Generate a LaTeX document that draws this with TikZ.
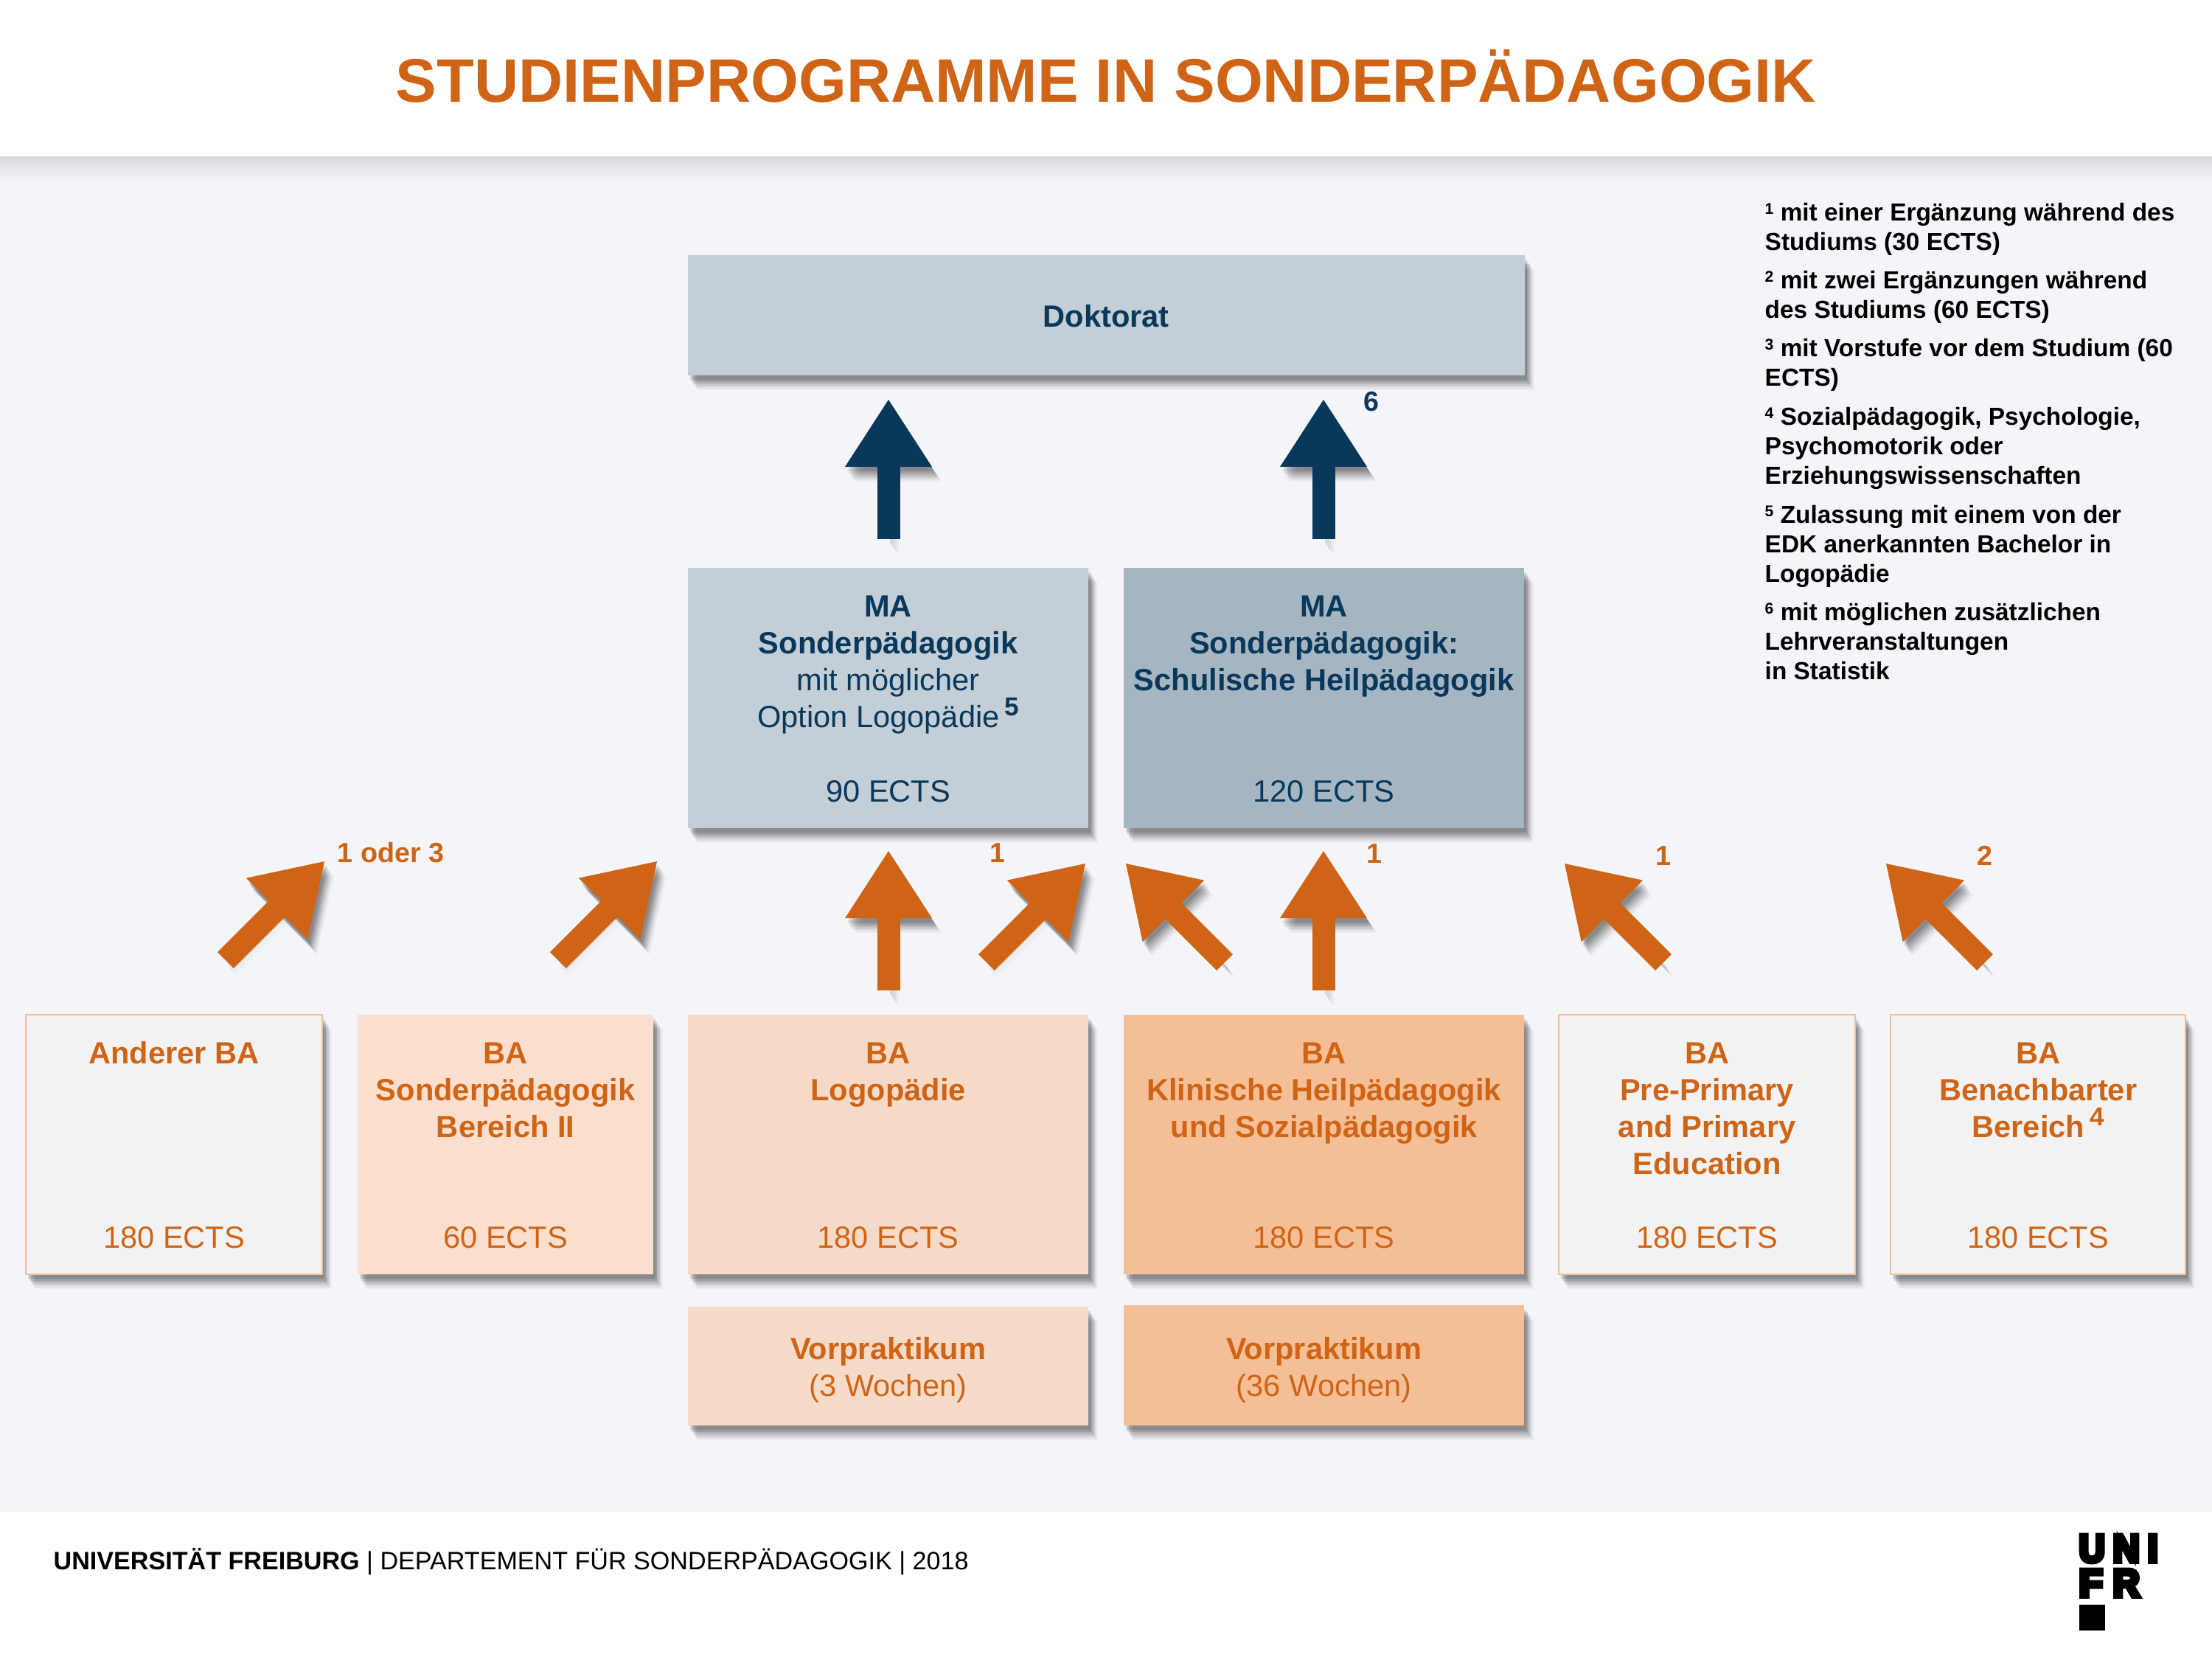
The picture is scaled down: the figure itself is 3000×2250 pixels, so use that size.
\documentclass[tikz,border=0pt]{standalone}
\usepackage{fontspec}
\usepackage{graphicx}
\usetikzlibrary{arrows.meta}
\setmainfont{Liberation Sans}
\definecolor{orng}{HTML}{CF6416}
\definecolor{navy}{HTML}{09385A}
\definecolor{bgc}{HTML}{F3F5F9}
\definecolor{bluea}{HTML}{C3CED7}
\definecolor{blueb}{HTML}{A5B6C2}
\definecolor{peachl}{HTML}{F5DAC8}
\definecolor{peachs}{HTML}{FADFCE}
\definecolor{peachd}{HTML}{F4BF96}
\definecolor{greyb}{HTML}{F2F2F2}
\definecolor{hdshadow}{HTML}{D8D9DB}
% box body: width, height, first baseline offset, top text, bottom text
\newcommand{\bx}[5]{\parbox[c][#2cm][t]{#1cm}{\centering\fontsize{11.83}{14.226}\selectfont\rule{0pt}{#3cm}#4\par\vfill #5\rule[-.36cm]{0pt}{.1cm}\par}}
\newcommand{\sups}[1]{\,\raisebox{.16cm}{\fontsize{10}{10}\selectfont\bfseries #1}}
\newcommand{\fsup}[1]{\raisebox{.09cm}{\fontsize{6}{6}\selectfont #1}}
\newcommand{\logol}[3]{\resizebox{#1cm}{#2cm}{\fontspec[FakeBold=12]{Liberation Sans Bold}#3}}
\tikzset{
  x=.01cm,y=-.01cm,
  softa/.style={preaction={#1,draw opacity=.12,fill opacity=.12,transform canvas={shift={(.03cm,-.06cm)}}},
    preaction={#1,draw opacity=.12,fill opacity=.12,transform canvas={shift={(.05cm,-.09cm)}}},
    preaction={#1,draw opacity=.11,fill opacity=.11,transform canvas={shift={(.07cm,-.12cm)}}},
    preaction={#1,draw opacity=.09,fill opacity=.09,transform canvas={shift={(.09cm,-.15cm)}}},
    preaction={#1,draw opacity=.05,fill opacity=.05,transform canvas={shift={(.11cm,-.18cm)}}},
    preaction={#1,draw opacity=.03,fill opacity=.03,transform canvas={shift={(.13cm,-.20cm)}}}},
  card/.style={softa={fill=black},anchor=north west,inner sep=0pt,outer sep=0pt,fill=#1,text=orng},
  mcard/.style={softa={fill=black},anchor=north west,inner sep=0pt,outer sep=0pt,fill=#1,text=navy},
  ocard/.style={card=greyb,draw=peachd,line width=.02cm},
  blockarr/.style={line width=.31cm,draw=#1,-{Triangle[length=.91cm,width=1.18cm,line width=0pt]},
    softa={draw=black}},
  fnote/.style={anchor=north west,inner sep=0pt,font=\fontsize{9.5}{11.38}\selectfont\bfseries,align=left,text=black},
  lab/.style={anchor=base,inner sep=0pt,font=\fontsize{10.7}{12}\selectfont\bfseries,text=orng},
  logoletter/.style={anchor=north west,inner sep=0pt,text=black},
}
\begin{document}
\begin{tikzpicture}
\useasboundingbox (0,0) rectangle (3000,2250);
\fill[white] (0,0) rectangle (3000,2250);
\fill[bgc] (0,212) rectangle (3000,2050);
\shade[top color=hdshadow,bottom color=bgc] (0,212) rectangle (3000,245);
\node[anchor=base,inner sep=0pt,text=orng,font=\fontsize{23.7}{30}\selectfont\bfseries] (title) at (1500,138) {STUDIENPROGRAMME IN SONDERPÄDAGOGIK};

% MA and doctorate
\node[mcard=bluea] (dok) at (933,346) {\bx{11.34}{1.63}{.97}{\textbf{Doktorat}}{}};
\node[mcard=bluea] (mal) at (933,770) {\bx{5.43}{3.53}{.66}{\textbf{MA}\\\textbf{Sonderpädagogik}\\mit möglicher\\Option Logopädie\sups{5}}{90 ECTS}};
\node[mcard=blueb] (mar) at (1524,770) {\bx{5.43}{3.53}{.66}{\textbf{MA}\\\textbf{Sonderpädagogik:}\\\textbf{Schulische Heilpädagogik}}{120 ECTS}};

% BA boxes
\node[ocard] (ba1) at (35,1376) {\bx{4.02}{3.52}{.66}{\textbf{Anderer BA}}{180 ECTS}};
\node[card=peachs] (ba2) at (485,1376) {\bx{4.01}{3.52}{.66}{\textbf{BA}\\\textbf{Sonderpädagogik}\\\textbf{Bereich II}}{60 ECTS}};
\node[card=peachl] (ba3) at (933,1376) {\bx{5.43}{3.52}{.66}{\textbf{BA}\\\textbf{Logopädie}}{180 ECTS}};
\node[card=peachd] (ba4) at (1524,1376) {\bx{5.43}{3.52}{.66}{\textbf{BA}\\\textbf{Klinische Heilpädagogik}\\\textbf{und Sozialpädagogik}}{180 ECTS}};
\node[ocard] (ba5) at (2114,1376) {\bx{4.02}{3.52}{.66}{\textbf{BA}\\\textbf{Pre-Primary}\\\textbf{and Primary}\\\textbf{Education}}{180 ECTS}};
\node[ocard] (ba6) at (2564,1376) {\bx{4.0}{3.52}{.66}{\textbf{BA}\\\textbf{Benachbarter}\\\textbf{Bereich}\sups{4}}{180 ECTS}};
\node[card=peachl] (vp1) at (933,1772) {\bx{5.43}{1.61}{.71}{\textbf{Vorpraktikum}\\(3 Wochen)}{}};
\node[card=peachd] (vp2) at (1524,1770) {\bx{5.43}{1.63}{.73}{\textbf{Vorpraktikum}\\(36 Wochen)}{}};

% arrows
\coordinate (n1s) at (1205,731); \coordinate (n1t) at (1205,542);
\coordinate (n2s) at (1795,731); \coordinate (n2t) at (1795,542);
\coordinate (o1s) at (1205,1343); \coordinate (o1t) at (1205,1154);
\coordinate (o2s) at (1795,1343); \coordinate (o2t) at (1795,1154);
\coordinate (d1s) at (306,1302); \coordinate (d1t) at (440,1168);
\coordinate (d2s) at (757,1302); \coordinate (d2t) at (891,1168);
\coordinate (d3s) at (1338,1305); \coordinate (d3t) at (1472,1171);
\coordinate (d4s) at (1661,1305); \coordinate (d4t) at (1527,1171);
\coordinate (d5s) at (2256,1305); \coordinate (d5t) at (2122,1171);
\coordinate (d6s) at (2692,1305); \coordinate (d6t) at (2558,1171);
\foreach \a in {n1,n2} \draw[blockarr=navy] (\a s) -- (\a t);
\foreach \a in {o1,o2,d1,d2,d3,d4,d5,d6} \draw[blockarr=orng] (\a s) -- (\a t);

% labels
\node[lab] (l1) at (530,1169) {1 oder 3};
\node[lab] (l2) at (1353,1169) {1};
\node[lab] (l3) at (1864,1170) {1};
\node[lab] (l4) at (2256,1173) {1};
\node[lab] (l5) at (2692,1173) {2};
\node[lab,text=navy] (l6) at (1860,557) {6};

% footnotes
\node[fnote] (f1) at (2393,275) {\fsup{1} mit einer Ergänzung während des\\Studiums (30 ECTS)};
\node[fnote] (f2) at (2393,367) {\fsup{2} mit zwei Ergänzungen während\\des Studiums (60 ECTS)};
\node[fnote] (f3) at (2393,459) {\fsup{3} mit Vorstufe vor dem Studium (60\\ECTS)};
\node[fnote] (f4) at (2393,552) {\fsup{4} Sozialpädagogik, Psychologie,\\Psychomotorik oder\\Erziehungswissenschaften};
\node[fnote] (f5) at (2393,685) {\fsup{5} Zulassung mit einem von der\\EDK anerkannten Bachelor in\\Logopädie};
\node[fnote] (f6) at (2393,817) {\fsup{6} mit möglichen zusätzlichen\\Lehrveranstaltungen\\in Statistik};

% footer
\node[anchor=base west,inner sep=0pt,text=black,font=\fontsize{9.7}{11}\selectfont] (foot) at (72,2128) {\textbf{UNIVERSITÄT FREIBURG} | DEPARTEMENT FÜR SONDERPÄDAGOGIK | 2018};
\node[logoletter] (lu) at (2819,2081) {\logol{.35}{.36}{U}};
\node[logoletter] (ln) at (2865,2081) {\logol{.36}{.36}{N}};
\node[logoletter] (li) at (2912,2081) {\logol{.14}{.36}{I}};
\node[logoletter] (lf) at (2819,2128) {\logol{.32}{.36}{F}};
\node[logoletter] (lr) at (2865,2128) {\logol{.36}{.36}{R}};
\node[fill=black,minimum width=.35cm,minimum height=.35cm,inner sep=0pt,anchor=north west] (lq) at (2819,2175) {};
\end{tikzpicture}
\end{document}
